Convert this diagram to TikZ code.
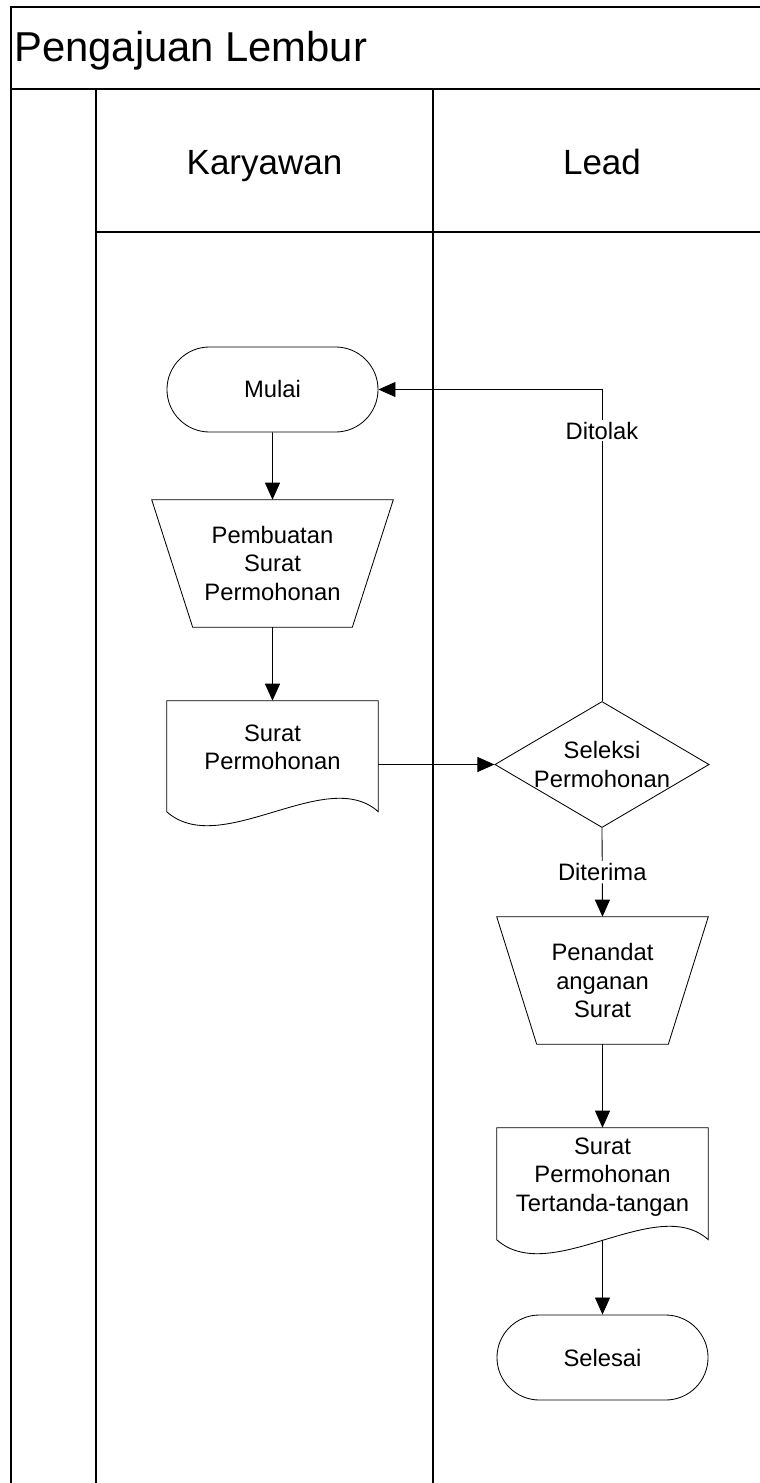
\documentclass[tikz,border=0pt]{standalone}
\usepackage{fontspec}
\setmainfont{Liberation Sans}
\usetikzlibrary{shapes.geometric,shapes.misc,arrows.meta}

\newcommand{\boxfont}{\fontsize{16.9pt}{20.3pt}\selectfont}

\begin{document}
\begin{tikzpicture}[x=0.025cm,y=-0.025cm,
    lane/.style={line width=1.3pt},
    terminal/.style={rounded rectangle, draw, line width=0.6pt, minimum width=5.275cm,
        minimum height=2.125cm, inner sep=0pt, font=\boxfont},
    manualbox/.style={rectangle, minimum height=3.175cm, inner sep=0pt, align=center, font=\boxfont},
    docbox/.style={rectangle, minimum width=5.275cm, inner sep=0pt, align=center, font=\boxfont},
    decision/.style={diamond, draw, line width=0.6pt, aspect=1.7, minimum width=5.3cm,
        minimum height=3.125cm, inner sep=0pt, align=center, font=\boxfont},
    outline/.style={line width=0.6pt},
    arr/.style={-{Triangle[length=0.425cm,width=0.375cm]}, line width=0.6pt},
    lbl/.style={fill=white, inner sep=1.5pt, font=\boxfont}]

    \useasboundingbox (0,0) rectangle (760,1483);

    % Pool and lanes
    \draw[lane] (11,1483) -- (11,7) -- (760,7);
    \draw[lane] (11,89) -- (760,89);
    \draw[lane] (96,89) -- (96,1483);
    \draw[lane] (433,89) -- (433,1483);
    \draw[lane] (96,232) -- (760,232);

    % Titles
    \node[anchor=base west, inner sep=0pt, font=\fontsize{29.7pt}{34pt}\selectfont]
        (judul) at (14,62) {Pengajuan Lembur};
    \node[anchor=base, inner sep=0pt, font=\fontsize{24.9pt}{29pt}\selectfont]
        (karyawan) at (264.5,175) {Karyawan};
    \node[anchor=base, inner sep=0pt, font=\fontsize{24.9pt}{29pt}\selectfont]
        (lead) at (602,175) {Lead};

    % Karyawan lane
    \node[terminal] (mulai) at (272.5,389.5) {Mulai};
    \node[manualbox, minimum width=6.025cm] (pembuatan) at (272.5,563.5)
        {Pembuatan\\Surat\\Permohonan};
    \draw[outline] (pembuatan.north west) -- (pembuatan.north east)
        -- ([xshift=-1.025cm]pembuatan.south east) -- ([xshift=1.025cm]pembuatan.south west) -- cycle;
    \node[docbox, minimum height=2.325cm] (surat) at (272.5,747.5) {Surat\\Permohonan};
    \draw[outline] (surat.north west) -- (surat.north east)
        -- ([yshift=-2.775cm]surat.north east)
        .. controls +(-52,-47) and +(54,48) .. ([yshift=-2.775cm]surat.north west) -- cycle;

    % Lead lane
    \node[decision] (seleksi) at (602,764.5) {Seleksi\\Permohonan};
    \node[manualbox, minimum width=5.275cm] (penandatangan) at (602.5,980.5)
        {Penandat\\anganan\\Surat};
    \draw[outline] (penandatangan.north west) -- (penandatangan.north east)
        -- ([xshift=-1cm]penandatangan.south east) -- ([xshift=1cm]penandatangan.south west) -- cycle;
    \node[docbox, minimum height=2.45cm] (ttd) at (602.5,1177)
        {Surat\\Permohonan\\Tertanda-tangan};
    \draw[outline] (ttd.north west) -- (ttd.north east)
        -- ([yshift=-2.8cm]ttd.north east)
        .. controls +(-52,-47) and +(54,48) .. ([yshift=-2.8cm]ttd.north west) -- cycle;
    \coordinate (ttdbawah) at ([yshift=-2.8cm]ttd.north);
    \node[terminal] (selesai) at (602.5,1357.5) {Selesai};

    % Connectors
    \draw[arr] (mulai) -- (pembuatan);
    \draw[arr] (pembuatan) -- (surat);
    \draw[arr] (surat.east |- seleksi.west) -- (seleksi.west);
    \draw[arr] (seleksi.north) |- (mulai.east) node[lbl, pos=0.434] {Ditolak};
    \draw[arr] (seleksi.south) -- (penandatangan.north) node[lbl, midway] {Diterima};
    \draw[arr] (penandatangan) -- (ttd);
    \draw[arr] (ttdbawah) -- (selesai);
\end{tikzpicture}
\end{document}
